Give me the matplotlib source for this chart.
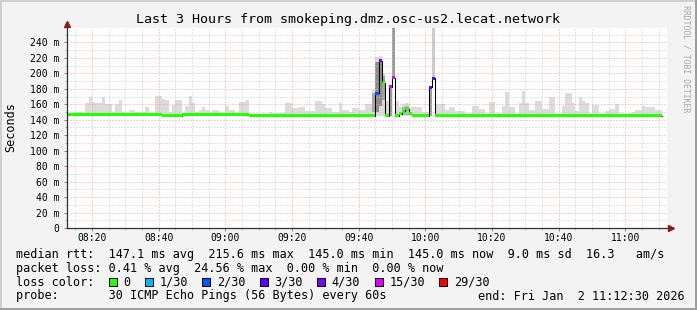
import datetime
import numpy as np
import matplotlib
matplotlib.use("Agg")
import matplotlib.pyplot as plt
import matplotlib.dates as mdates
from matplotlib.patches import Rectangle
from matplotlib.ticker import MultipleLocator, FuncFormatter

# --- data (ms, local time) ---
smoke_start = ["08:12", "08:15", "08:17", "08:18", "08:19", "08:20", "08:21", "08:23", "08:24", "08:26",
               "08:27", "08:28", "08:29", "08:30", "08:31", "08:33", "08:36", "08:37", "08:39", "08:41",
               "08:42", "08:43", "08:44", "08:45", "08:47", "08:48", "08:49", "08:50", "08:51", "08:52",
               "08:53", "08:54", "08:55", "08:56", "08:58", "09:00", "09:01", "09:03", "09:04", "09:06",
               "09:07", "09:13", "09:14", "09:18", "09:20", "09:22", "09:24", "09:27", "09:29", "09:30",
               "09:32", "09:34", "09:35", "09:37", "09:38", "09:40", "09:42", "09:44", "09:45", "09:46",
               "09:47", "09:48", "09:49", "09:50", "09:51", "09:52", "09:53", "09:54", "09:55", "09:56",
               "09:59", "10:01", "10:02", "10:03", "10:06", "10:07", "10:09", "10:12", "10:14", "10:16",
               "10:18", "10:19", "10:21", "10:23", "10:24", "10:25", "10:27", "10:28", "10:29", "10:30",
               "10:31", "10:33", "10:35", "10:37", "10:39", "10:41", "10:42", "10:44", "10:45", "10:46",
               "10:47", "10:48", "10:49", "10:50", "10:52", "10:54", "10:55", "10:57", "10:58", "11:01",
               "11:02", "11:03", "11:05", "11:06", "11:09"]
smoke_top = [149, 150, 148, 161, 169.5, 162.5, 161, 170, 160, 150,
             160, 166, 150, 149, 152, 150, 156, 149, 171, 167,
             165, 150, 158.5, 165, 148, 158, 171, 162, 150, 152,
             157, 153, 150, 152, 149, 157.5, 152, 149, 163, 166,
             147, 150, 149, 161, 155, 156, 151, 164, 160, 155,
             150, 161, 153, 150, 155, 153, 160, 179, 221, 222,
             201, 164, 185, 145, 164, 156, 160, 162, 156, 157,
             150, 184, 145, 160, 152, 156, 151.5, 148, 158, 154,
             148, 163.5, 148, 158, 176, 156, 148, 161.5, 177.5, 161.5,
             152.5, 164.5, 154, 169.5, 148, 158, 174.5, 161, 151, 170,
             164, 161, 148, 159.5, 148, 151.5, 153.5, 160, 148, 149,
             150, 152, 158, 156, 153]
smoke_floor = 145.0
data_end = "11:11"

# denser part of the smoke during the two latency spikes (one minute each)
spike_start = ["09:44", "09:45", "09:46", "09:47", "09:49", "09:50", "09:53", "09:54", "10:01", "10:02"]
spike_low = [150, 150, 158, 165, 145, 194, 146, 146, 145, 193.5]
spike_high = [174, 214, 217, 196, 181, 262, 156, 158, 180, 262]
spike_shade = ["#a8a8a8", "#8c8c8c", "#8c8c8c", "#a0a0a0", "#9a9a9a", "#999999",
               "#b4b4b4", "#b4b4b4", "#a0a0a0", "#cccccc"]

med_start = ["08:12", "08:41", "08:42", "08:47", "09:07", "09:45", "09:46", "09:47", "09:48", "09:49",
             "09:50", "09:51", "09:52", "09:53", "09:54", "09:55", "09:56", "10:01", "10:02", "10:03"]
med_value = [146.2, 145.6, 145.0, 146.2, 145.2, 174.5, 216.0, 187.0, 145.2, 182.5,
             194.5, 145.2, 148.0, 151.0, 154.0, 148.0, 145.2, 182.0, 193.5, 145.2]
med_loss = [0, 0, 0, 0, 0, 2, 4, 0, 0, 15, 15, 0, 0, 0, 0, 0, 0, 3, 3, 0]

loss_labels = ["0", "1/30", "2/30", "3/30", "4/30", "15/30", "29/30"]
loss_steps = [0, 1, 2, 3, 4, 15, 29]
loss_colors = ["#26ff00", "#00b8ff", "#0059ff", "#5e00ff", "#7e00ff", "#dd00ff", "#ff0000"]

rtt_stats = [147.1, 215.6, 145.0, 145.0, 9.0, 16.3]
loss_stats = [0.41, 24.56, 0.00, 0.00]
probe_text = "30 ICMP Echo Pings (56 Bytes) every 60s"
end_text = "end: Fri Jan  2 11:12:30 2026"
title = "Last 3 Hours from smokeping.dmz.osc-us2.lecat.network"

W, H = 697, 310
day = datetime.date(2026, 1, 2)


def tnum(s):
    parts = [int(p) for p in s.split(":")]
    if len(parts) == 2:
        parts.append(0)
    return mdates.date2num(datetime.datetime(day.year, day.month, day.day, *parts))


def fx(px):
    return px / W


def fy(py):
    return 1 - py / H


plt.rcParams["font.family"] = ["DejaVu Sans Mono"]

fig = plt.figure(figsize=(W / 100, H / 100), dpi=100)
fig.patch.set_facecolor("#f3f3f3")
ax = fig.add_axes([fx(67), 1 - 228 / H, 600 / W, 200 / H])
ax.set_facecolor("white")

one_min = 1 / 1440.0

# light smoke
s_x = np.array([tnum(s) for s in smoke_start])
s_w = np.diff(np.append(s_x, tnum(data_end)))
s_top = np.array(smoke_top)
ax.bar(s_x, s_top - smoke_floor, bottom=smoke_floor, width=s_w, align="edge",
       color="#dcdcdc", linewidth=0, antialiased=False, zorder=1)

# darker smoke in the spikes
k_x = np.array([tnum(s) for s in spike_start])
ax.bar(k_x, np.array(spike_high) - np.array(spike_low), bottom=spike_low, width=one_min,
       align="edge", color=spike_shade, linewidth=0, antialiased=False, zorder=1.1)

# median line: black step + loss coloured band
m_x = np.array([tnum(s) for s in med_start])
m_end = tnum(data_end)
ax.step(np.append(m_x, m_end), np.append(med_value, med_value[-1]), where="post",
        color="black", linewidth=0.75, zorder=3)
m_w = np.diff(np.append(m_x, m_end))
m_col = [loss_colors[loss_steps.index(l)] for l in med_loss]
ax.bar(m_x, 3.8, bottom=np.array(med_value) - 1.9, width=m_w, align="edge",
       color=m_col, linewidth=0, antialiased=False, zorder=4)

# axes
ax.set_xlim(tnum("08:12:30"), tnum("11:12:30"))
ax.set_ylim(0, 258.6)
ax.xaxis.set_major_locator(mdates.MinuteLocator(byminute=[0, 20, 40]))
ax.xaxis.set_minor_locator(mdates.MinuteLocator(byminute=range(0, 60, 5)))
ax.xaxis.set_major_formatter(mdates.DateFormatter("%H:%M"))
ax.yaxis.set_major_locator(MultipleLocator(20))
ax.yaxis.set_minor_locator(MultipleLocator(10))
ax.yaxis.set_major_formatter(FuncFormatter(lambda v, p: "0" if v == 0 else "%d m" % v))

ax.grid(which="major", color="#f2a0a0", linewidth=0.72, linestyle=(0, (1, 2)))
ax.grid(which="minor", color="#c8c8c8", linewidth=0.72, linestyle=(0, (1, 2)))
ax.tick_params(which="major", direction="out", length=2.2, width=0.7, color="#d06060",
               labelsize=7, pad=1.5)
ax.tick_params(axis="y", which="major", pad=3.3)
ax.tick_params(which="minor", direction="out", length=1.5, width=0.7, color="#b0b0b0")
for sp in ax.spines.values():
    sp.set_visible(False)

ax.plot([0, 0], [0, 1.015], transform=ax.transAxes, color="#303030", lw=0.9, clip_on=False, zorder=5)
ax.plot([0, 1.0067], [0, 0], transform=ax.transAxes, color="#303030", lw=0.9, clip_on=False, zorder=5)
ax.plot(0, 1.02, marker="^", ms=4, color="#8b1a1a", transform=ax.transAxes, clip_on=False, zorder=6)
ax.plot(1.0067, 0, marker=">", ms=4, color="#8b1a1a", transform=ax.transAxes, clip_on=False, zorder=6)

# texts
fig.text(fx(348), fy(19.3), title, ha="center", va="center", fontsize=9.6)
fig.text(fx(10.5), fy(127.5), "Seconds", rotation=90, ha="center", va="center", fontsize=8.5)
fig.text(fx(686), fy(59), "RRDTOOL / TOBI OETIKER", rotation=270, ha="center", va="center",
         fontsize=5.9, color="#a8a8a8")

row1 = "median rtt:  %.1f ms avg  %.1f ms max  %.1f ms min  %.1f ms now  %.1f ms sd  %.1f   am/s" % tuple(rtt_stats)
row2 = "packet loss: %.2f %% avg  %.2f %% max  %.2f %% min  %.2f %% now" % tuple(loss_stats)
fig.text(fx(16), fy(254.5), row1, va="center", fontsize=8.5)
fig.text(fx(16), fy(268.5), row2, va="center", fontsize=8.5)
fig.text(fx(16), fy(282), "loss color:", va="center", fontsize=8.5)
bx = 108.5
for lab, col in zip(loss_labels, loss_colors):
    fig.add_artist(Rectangle((fx(bx), fy(286)), 8 / W, 8 / H, transform=fig.transFigure,
                             facecolor=col, edgecolor="black", linewidth=0.7))
    fig.text(fx(bx + 14.8), fy(282), lab, va="center", fontsize=8.5)
    bx = bx + 14.8 + len(lab) * 7.12 + 14.2
fig.text(fx(16), fy(296), "probe:       " + probe_text, va="center", fontsize=8.5)
fig.text(fx(478.3), fy(296), end_text, va="center", fontsize=8.5)

# 3d frame
fig.add_artist(Rectangle((0, 1 - 2 / H), 1, 2 / H, transform=fig.transFigure, color="#cfcfcf", lw=0))
fig.add_artist(Rectangle((0, 0), 2 / W, 1, transform=fig.transFigure, color="#cfcfcf", lw=0))
fig.add_artist(Rectangle((0, 0), 1, 2 / H, transform=fig.transFigure, color="#9e9e9e", lw=0))
fig.add_artist(Rectangle((1 - 2 / W, 0), 2 / W, 1, transform=fig.transFigure, color="#9e9e9e", lw=0))

fig.savefig("out.png", dpi=100, facecolor=fig.get_facecolor())
